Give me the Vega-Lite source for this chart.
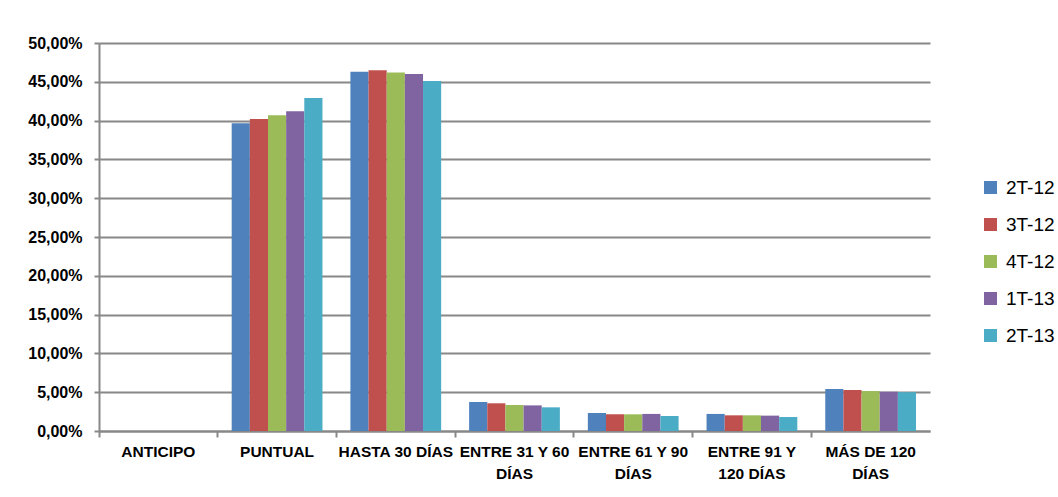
{
  "$schema": "https://vega.github.io/schema/vega-lite/v6.json",
  "width": 831,
  "height": 388,
  "autosize": "none",
  "padding": {"left": 99, "top": 43, "right": 128, "bottom": 66},
  "background": "white",
  "data": {
    "values": [
      {"plazo": "ANTICIPO", "trimestre": "2T-12", "valor": 0},
      {"plazo": "ANTICIPO", "trimestre": "3T-12", "valor": 0},
      {"plazo": "ANTICIPO", "trimestre": "4T-12", "valor": 0},
      {"plazo": "ANTICIPO", "trimestre": "1T-13", "valor": 0},
      {"plazo": "ANTICIPO", "trimestre": "2T-13", "valor": 0},
      {"plazo": "PUNTUAL", "trimestre": "2T-12", "valor": 0.3965},
      {"plazo": "PUNTUAL", "trimestre": "3T-12", "valor": 0.402},
      {"plazo": "PUNTUAL", "trimestre": "4T-12", "valor": 0.407},
      {"plazo": "PUNTUAL", "trimestre": "1T-13", "valor": 0.412},
      {"plazo": "PUNTUAL", "trimestre": "2T-13", "valor": 0.429},
      {"plazo": "HASTA 30 DÍAS", "trimestre": "2T-12", "valor": 0.463},
      {"plazo": "HASTA 30 DÍAS", "trimestre": "3T-12", "valor": 0.465},
      {"plazo": "HASTA 30 DÍAS", "trimestre": "4T-12", "valor": 0.462},
      {"plazo": "HASTA 30 DÍAS", "trimestre": "1T-13", "valor": 0.46},
      {"plazo": "HASTA 30 DÍAS", "trimestre": "2T-13", "valor": 0.451},
      {"plazo": "ENTRE 31 Y 60 DÍAS", "trimestre": "2T-12", "valor": 0.0374},
      {"plazo": "ENTRE 31 Y 60 DÍAS", "trimestre": "3T-12", "valor": 0.0357},
      {"plazo": "ENTRE 31 Y 60 DÍAS", "trimestre": "4T-12", "valor": 0.0335},
      {"plazo": "ENTRE 31 Y 60 DÍAS", "trimestre": "1T-13", "valor": 0.033},
      {"plazo": "ENTRE 31 Y 60 DÍAS", "trimestre": "2T-13", "valor": 0.0305},
      {"plazo": "ENTRE 61 Y 90 DÍAS", "trimestre": "2T-12", "valor": 0.0232},
      {"plazo": "ENTRE 61 Y 90 DÍAS", "trimestre": "3T-12", "valor": 0.0215},
      {"plazo": "ENTRE 61 Y 90 DÍAS", "trimestre": "4T-12", "valor": 0.0215},
      {"plazo": "ENTRE 61 Y 90 DÍAS", "trimestre": "1T-13", "valor": 0.022},
      {"plazo": "ENTRE 61 Y 90 DÍAS", "trimestre": "2T-13", "valor": 0.0193},
      {"plazo": "ENTRE 91 Y 120 DÍAS", "trimestre": "2T-12", "valor": 0.022},
      {"plazo": "ENTRE 91 Y 120 DÍAS", "trimestre": "3T-12", "valor": 0.0202},
      {"plazo": "ENTRE 91 Y 120 DÍAS", "trimestre": "4T-12", "valor": 0.0202},
      {"plazo": "ENTRE 91 Y 120 DÍAS", "trimestre": "1T-13", "valor": 0.0198},
      {"plazo": "ENTRE 91 Y 120 DÍAS", "trimestre": "2T-13", "valor": 0.018},
      {"plazo": "MÁS DE 120 DÍAS", "trimestre": "2T-12", "valor": 0.0541},
      {"plazo": "MÁS DE 120 DÍAS", "trimestre": "3T-12", "valor": 0.0528},
      {"plazo": "MÁS DE 120 DÍAS", "trimestre": "4T-12", "valor": 0.0515},
      {"plazo": "MÁS DE 120 DÍAS", "trimestre": "1T-13", "valor": 0.0506},
      {"plazo": "MÁS DE 120 DÍAS", "trimestre": "2T-13", "valor": 0.05}
    ]
  },
  "mark": {"type": "bar"},
  "encoding": {
    "x": {
      "field": "plazo",
      "type": "nominal",
      "sort": null,
      "scale": {"paddingInner": 0, "paddingOuter": 0},
      "axis": {
        "title": null,
        "labelAngle": 0,
        "bandPosition": 0,
        "domainColor": "#888888",
        "domainWidth": 2,
        "tickColor": "#888888",
        "tickWidth": 2,
        "tickSize": 6,
        "labelPadding": 7,
        "labelFont": "Liberation Sans",
        "labelFontWeight": "bold",
        "labelFontSize": 15.5,
        "labelColor": "#000000",
        "labelLineHeight": 22,
        "labelBaseline": "top",
        "labelLimit": 200,
        "labelExpr": "datum.label == 'ENTRE 31 Y 60 DÍAS' ? ['ENTRE 31 Y 60', 'DÍAS'] : datum.label == 'ENTRE 61 Y 90 DÍAS' ? ['ENTRE 61 Y 90', 'DÍAS'] : datum.label == 'ENTRE 91 Y 120 DÍAS' ? ['ENTRE 91 Y', '120 DÍAS'] : datum.label == 'MÁS DE 120 DÍAS' ? ['MÁS DE 120', 'DÍAS'] : datum.label"
      }
    },
    "xOffset": {
      "field": "trimestre",
      "type": "nominal",
      "sort": ["2T-12", "3T-12", "4T-12", "1T-13", "2T-13"],
      "scale": {"paddingInner": 0, "paddingOuter": 0.77}
    },
    "y": {
      "field": "valor",
      "type": "quantitative",
      "scale": {"domain": [0, 0.5], "nice": false},
      "axis": {
        "title": null,
        "values": [0, 0.05, 0.1, 0.15, 0.2, 0.25, 0.3, 0.35, 0.4, 0.45, 0.5],
        "format": ".2%",
        "grid": true,
        "gridColor": "#888888",
        "gridWidth": 2,
        "domainColor": "#888888",
        "domainWidth": 2,
        "tickColor": "#888888",
        "tickWidth": 2,
        "tickSize": 5,
        "labelPadding": 12,
        "labelFont": "Liberation Sans",
        "labelFontWeight": "bold",
        "labelFontSize": 16,
        "labelColor": "#000000"
      }
    },
    "color": {
      "field": "trimestre",
      "type": "nominal",
      "sort": ["2T-12", "3T-12", "4T-12", "1T-13", "2T-13"],
      "scale": {
        "domain": ["2T-12", "3T-12", "4T-12", "1T-13", "2T-13"],
        "range": ["#4F81BD", "#C0504D", "#9BBB59", "#8064A2", "#4BACC6"]
      },
      "legend": {
        "title": null,
        "orient": "none",
        "legendX": 882,
        "legendY": 135,
        "symbolType": "square",
        "symbolSize": 170,
        "symbolStrokeWidth": 0,
        "labelFont": "Liberation Sans",
        "labelFontSize": 19,
        "labelColor": "#000000",
        "labelOffset": 6,
        "rowPadding": 17
      }
    }
  },
  "config": {
    "locale": {
      "number": {
        "decimal": ",",
        "thousands": ".",
        "grouping": [3],
        "currency": ["", " €"]
      }
    },
    "view": {"stroke": null}
  }
}
